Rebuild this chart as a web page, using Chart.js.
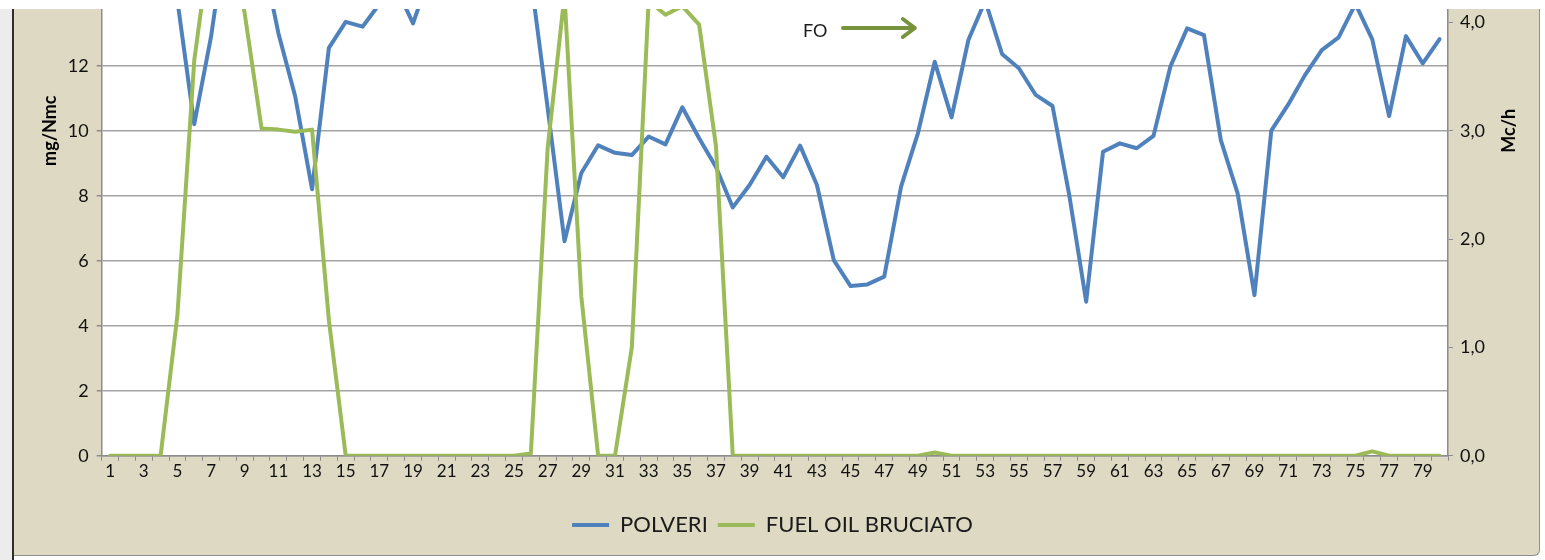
<!DOCTYPE html>
<html>
<head>
<meta charset="utf-8">
<script src="https://cdn.jsdelivr.net/npm/chart.js@4.4.1/dist/chart.umd.min.js"></script>
<style>
  body { margin: 0; width: 1545px; height: 560px; overflow: hidden; position: relative; background: #fff; }
  #rows { position: absolute; left: 0; top: 9px; width: 12px; height: 551px; background: #ececec; border-right: 2px solid #2e2e2e; }
  #frame { position: absolute; left: 14px; top: 9px; width: 1525px; height: 546px; background: #ddd9c3;
           border-right: 1px solid #8f8f8f; border-bottom: 1px solid #8f8f8f; border-bottom-right-radius: 6px; overflow: hidden; }
  #frame canvas { position: absolute; left: -14px; top: -230px; }
</style>
</head>
<body>
<div id="rows"></div>
<div id="frame"><canvas id="polveriChart" width="1545" height="777"></canvas></div>
<script>
const giorni = Array.from({ length: 80 }, (_, i) => String(i + 1));

const polveri = [
  16.0, 16.5, 17.0, 15.8, 14.0, 10.2, 12.9, 16.5, 16.0, 15.5,
  13.0, 11.05, 8.2, 12.55, 13.35, 13.2, 13.9, 14.4, 13.3, 14.8,
  15.2, 15.6, 15.0, 15.4, 15.1, 14.7, 10.7, 6.6, 8.7, 9.55,
  9.32, 9.25, 9.82, 9.58, 10.72, 9.77, 8.88, 7.64, 8.33, 9.2,
  8.57, 9.54, 8.33, 6.02, 5.22, 5.27, 5.51, 8.28, 9.92, 12.12,
  10.41, 12.79, 14.0, 12.36, 11.92, 11.1, 10.76, 8.0, 4.74, 9.35,
  9.61, 9.46, 9.84, 11.97, 13.15, 12.94, 9.71, 8.07, 4.94, 10.0,
  10.8, 11.71, 12.48, 12.87, 13.9, 12.81, 10.45, 12.91, 12.07, 12.82
];

const fuelOil = [
  0, 0, 0, 0, 1.3, 3.65, 4.8, 4.9, 4.08, 3.02,
  3.01, 2.99, 3.01, 1.25, 0, 0, 0, 0, 0, 0,
  0, 0, 0, 0, 0, 0.02, 2.84, 4.25, 1.47, 0,
  0, 1.0, 4.2, 4.07, 4.15, 3.98, 2.86, 0, 0, 0,
  0, 0, 0, 0, 0, 0, 0, 0, 0, 0.03,
  0, 0, 0, 0, 0, 0, 0, 0, 0, 0,
  0, 0, 0, 0, 0, 0, 0, 0, 0, 0,
  0, 0, 0, 0, 0, 0.04, 0, 0, 0, 0
];

const titoloSx = 'mg/Nmc';
const titoloDx = 'Mc/h';
const notaFO = 'FO';

const plotBg = {
  id: 'plotBg',
  beforeDraw(chart) {
    const { ctx, chartArea: a } = chart;
    ctx.save();
    ctx.fillStyle = '#ffffff';
    ctx.fillRect(a.left, a.top, a.width, a.height);
    ctx.restore();
  }
};

const extras = {
  id: 'extras',
  afterDraw(chart) {
    const { ctx, chartArea: a, scales } = chart;
    const midY = (a.top + a.bottom) / 2;
    ctx.save();
    ctx.fillStyle = '#000';
    ctx.font = 'bold 18px Lato';
    ctx.textAlign = 'center';
    ctx.textBaseline = 'middle';
    ctx.translate(50, midY);
    ctx.rotate(-Math.PI / 2);
    ctx.fillText(titoloSx, 0, 0);
    ctx.restore();

    ctx.save();
    ctx.fillStyle = '#000';
    ctx.font = 'bold 18px Lato';
    ctx.textAlign = 'center';
    ctx.textBaseline = 'middle';
    ctx.translate(1509, midY);
    ctx.rotate(-Math.PI / 2);
    ctx.fillText(titoloDx, 0, 0);
    ctx.restore();

    // FO arrow annotation
    const tx = scales.x.getPixelForValue(41.17);
    const ty = scales.y.getPixelForValue(13.07);
    const x0 = scales.x.getPixelForValue(43.55);
    const x1 = scales.x.getPixelForValue(47.82);
    const ay = scales.y.getPixelForValue(13.16);
    ctx.save();
    ctx.fillStyle = '#1a1a1a';
    ctx.font = '18px Lato';
    ctx.textAlign = 'left';
    ctx.textBaseline = 'middle';
    ctx.fillText(notaFO, tx, ty);
    ctx.strokeStyle = '#77933c';
    ctx.lineWidth = 4;
    ctx.lineCap = 'round';
    ctx.lineJoin = 'round';
    ctx.beginPath();
    ctx.moveTo(x0, ay);
    ctx.lineTo(x1 - 2, ay);
    ctx.stroke();
    ctx.beginPath();
    ctx.moveTo(x1 - 12, ay - 9);
    ctx.lineTo(x1, ay);
    ctx.lineTo(x1 - 12, ay + 9);
    ctx.stroke();
    ctx.restore();
  }
};

new Chart(document.getElementById('polveriChart'), {
  type: 'line',
  data: {
    labels: giorni,
    datasets: [{
      label: 'POLVERI',
      data: polveri,
      yAxisID: 'y',
      borderColor: '#4f81bd',
      backgroundColor: '#4f81bd',
      borderWidth: 4,
      pointRadius: 0,
      tension: 0,
      borderJoinStyle: 'round',
      borderCapStyle: 'round'
    }, {
      label: 'FUEL OIL BRUCIATO',
      data: fuelOil,
      yAxisID: 'y1',
      borderColor: '#9bbb59',
      backgroundColor: '#9bbb59',
      borderWidth: 4,
      pointRadius: 0,
      tension: 0,
      borderJoinStyle: 'round',
      borderCapStyle: 'round',
      order: -1
    }]
  },
  options: {
    responsive: false,
    animation: false,
    events: [],
    layout: { padding: { top: 26.7, bottom: 10, left: 0, right: 0 } },
    plugins: {
      tooltip: { enabled: false },
      legend: {
        position: 'bottom',
        labels: {
          usePointStyle: true,
          pointStyle: 'line',
          pointStyleWidth: 37,
          padding: 10,
          color: '#1a1a1a',
          font: { family: 'Lato', size: 22 },
          sort: (a, b) => a.datasetIndex - b.datasetIndex
        }
      }
    },
    scales: {
      x: {
        offset: true,
        grid: { offset: true, drawOnChartArea: false, tickLength: 5, color: '#8c8c8c' },
        border: { color: '#8c8c8c', width: 1.5 },
        ticks: {
          autoSkip: false, maxRotation: 0, padding: 1, color: '#111',
          font: { family: 'Lato', size: 17 },
          callback: (v, i) => (i % 2 === 0 ? giorni[i] : '')
        },
        afterFit: s => { s.height = 48.3; }
      },
      y: {
        position: 'left',
        min: 0, max: 20,
        ticks: { stepSize: 2, padding: 8, color: '#111', font: { family: 'Lato', size: 18 } },
        grid: { color: '#a3a3a3', lineWidth: 1.5, tickLength: 5, tickColor: '#8c8c8c' },
        border: { color: '#8c8c8c', width: 1.5 },
        afterFit: s => { s.width = 101.7; }
      },
      y1: {
        position: 'right',
        min: 0, max: 6,
        ticks: {
          stepSize: 1, padding: 7, color: '#111', font: { family: 'Lato', size: 18 },
          callback: v => v.toFixed(1).replace('.', ',')
        },
        grid: { drawOnChartArea: false, tickLength: 5, color: '#8c8c8c' },
        border: { color: '#8c8c8c', width: 1.5 },
        afterFit: s => { s.width = 97; }
      }
    }
  },
  plugins: [plotBg, extras]
});
</script>
</body>
</html>
